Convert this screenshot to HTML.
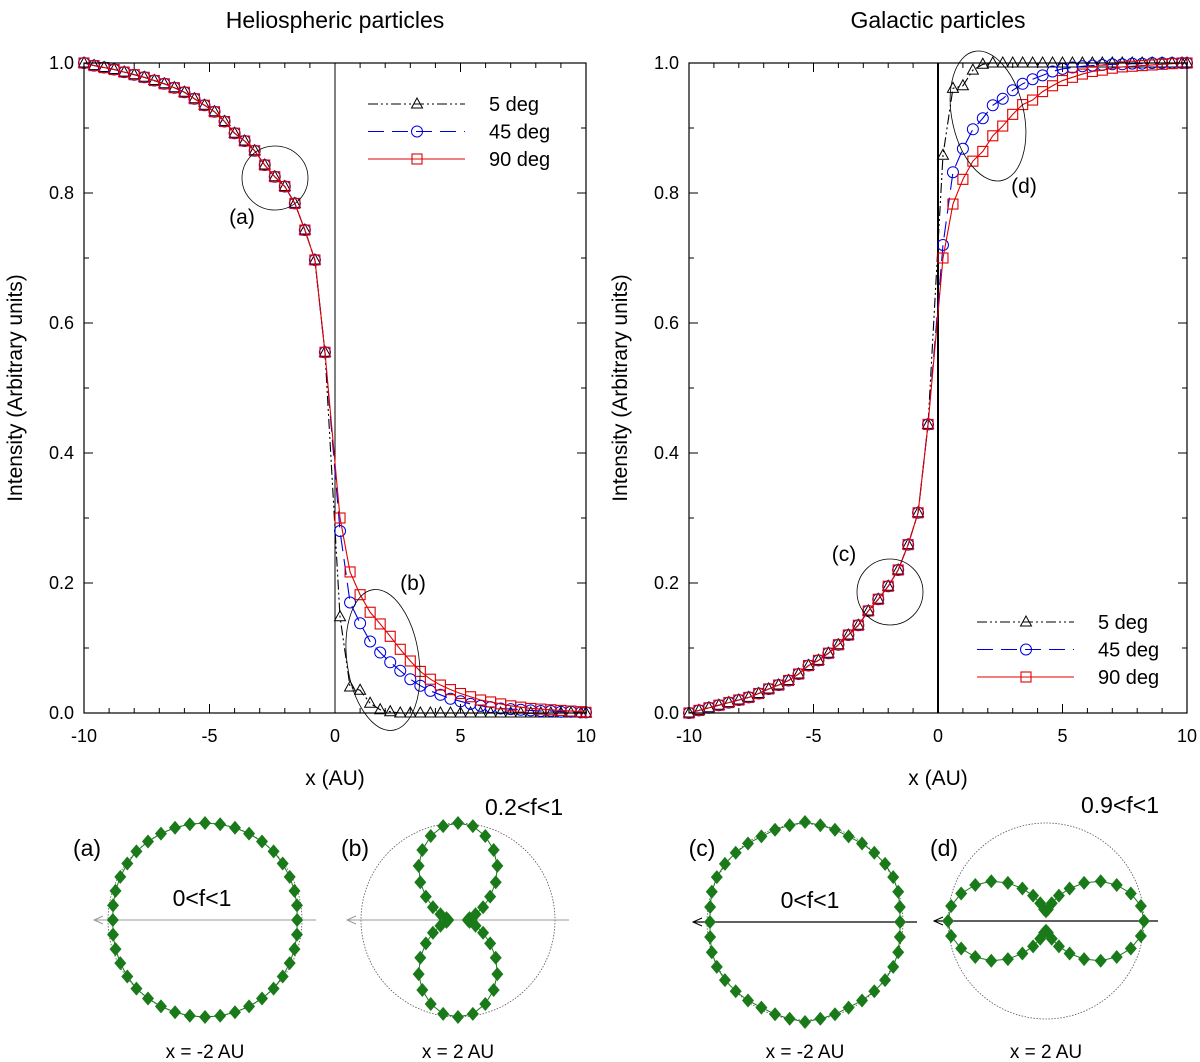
<!DOCTYPE html>
<html><head><meta charset="utf-8"><style>
html,body{margin:0;padding:0;background:#fff;}
svg{display:block;font-family:"Liberation Sans",Arial,sans-serif;}
</style></head><body>
<svg id="fig" width="1200" height="1062" viewBox="0 0 1200 1062"></svg>
<script>
const xLeft = [-10,-9.6,-9.2,-8.8,-8.4,-8,-7.6,-7.2,-6.8,-6.4,-6,-5.6,-5.2,-4.8,-4.4,-4,-3.6,-3.2,-2.8,-2.4,-2,-1.6,-1.2,-0.8,-0.4];
const xRight = [0.2,0.6,1,1.4,1.8,2.2,2.6,3,3.4,3.8,4.2,4.6,5,5.4,5.8,6.2,6.6,7,7.4,7.8,8.2,8.6,9,9.4,9.8,10];
const helioLeft = [1.0,.996,.993,.99,.986,.982,.978,.973,.968,.962,.955,.945,.935,.925,.91,.892,.88,.865,.843,.825,.81,.784,.743,.697,.555];
const helioRight5 = [.148,.04,.035,.015,.005,.002,0,0,0,0,0,0,0,0,0,0,0,0,0,0,0,0,0,0,0,0];
const helioRight45 = [.28,.17,.138,.11,.093,.078,.065,.052,.042,.034,.028,.022,.018,.014,.011,.009,.007,.006,.005,.004,.003,.003,.002,.002,.001,.001];
const helioRight90 = [.30,.217,.182,.155,.137,.118,.098,.08,.064,.052,.043,.036,.03,.025,.02,.017,.014,.011,.009,.007,.006,.005,.004,.003,.002,.001];
const galLeft = [0,.004,.008,.012,.016,.02,.024,.03,.037,.043,.05,.06,.073,.081,.092,.105,.12,.135,.157,.175,.195,.22,.259,.308,.444];
const galRight5 = [.858,.961,.965,.989,.998,1,1,1,1,1,1,1,1,1,1,1,1,1,1,1,1,1,1,1,1,1];
const galRight45 = [.72,.832,.868,.898,.915,.935,.945,.958,.968,.975,.981,.987,.991,.993,.995,.996,.997,.998,.998,.999,.999,1,1,1,1,1];
const galRight90 = [.70,.783,.821,.849,.864,.888,.903,.921,.936,.943,.956,.965,.973,.978,.983,.987,.989,.992,.994,.995,.996,.997,.998,.999,1,1];
const xTicks = [-10,-5,0,5,10];
const xTickLabels = ["-10","-5","0","5","10"];
const yTicks = [0,0.2,0.4,0.6,0.8,1.0];
const yTickLabels = ["0.0","0.2","0.4","0.6","0.8","1.0"];
const seriesNames = ["5 deg","45 deg","90 deg"];
const polarA = [.95,.96,.97,.98,.99,1,1,1,1,1,1,1,1,1,1,1,.99,.98,.97,.96,.95,.96,.97,.98,.99,1,1,1,1,1,1,1,1,1,1,1,.99,.98,.97,.96];
const polarB = [.1,.12,.19,.29,.41,.55,.69,.81,.91,.98,1,.98,.91,.81,.69,.55,.41,.29,.19,.12,.1,.12,.19,.29,.41,.55,.69,.81,.91,.98,1,.98,.91,.81,.69,.55,.41,.29,.19,.12];
const polarC = [.97,.98,1,1.01,1.01,1,.99,.98,.99,1,1.02,1,.99,.98,.99,1,1.01,1.01,1,.98,.97,.98,1,1.01,1.01,1,.99,.98,.99,1,1.02,1,.99,.98,.99,1,1.01,1.01,1,.98];
const polarD = [1,.98,.91,.81,.69,.55,.41,.29,.19,.12,.1,.12,.19,.29,.41,.55,.69,.81,.91,.98,1,.98,.91,.81,.69,.55,.41,.29,.19,.12,.1,.12,.19,.29,.41,.55,.69,.81,.91,.98];

const NS="http://www.w3.org/2000/svg";
const svg=document.getElementById('fig');
function mk(tag,attrs,parent,text){const e=document.createElementNS(NS,tag);for(const k in attrs)e.setAttribute(k,attrs[k]);if(text!==undefined)e.textContent=text;(parent||svg).appendChild(e);return e;}

const styles=[
 {color:"#000",dash:"10,3,2,3,2,3",marker:"tri"},
 {color:"#0000dd",dash:"16,8",marker:"circ"},
 {color:"#e00000",dash:"",marker:"sq"}
];

function panel(id,x0,x1,y0,y1,title,left,rights,legendPos,zeroW){
  const g=mk('g',{});
  
  
  const sx=v=>x0+(v+10)/20*(x1-x0);
  const sy=v=>y1-v*(y1-y0);
  const t=mk('text',{x:(x0+x1)/2,y:28,'font-size':23,'text-anchor':'middle'},g,title);
  
  
  for(let v=-10;v<=10;v++){const L=(v%5===0)?9:5;const X=sx(v);
    mk('line',{x1:X,y1:y1,x2:X,y2:y1-L,stroke:'#000','stroke-width':1},g);
    mk('line',{x1:X,y1:y0,x2:X,y2:y0+L,stroke:'#000','stroke-width':1},g);}
  for(let k=0;k<=10;k++){const v=k/10;const L=(k%2===0)?9:5;const Y=sy(v);
    mk('line',{x1:x0,y1:Y,x2:x0+L,y2:Y,stroke:'#000','stroke-width':1},g);
    mk('line',{x1:x1,y1:Y,x2:x1-L,y2:Y,stroke:'#000','stroke-width':1},g);}
  xTicks.forEach((v,i)=>{const e=mk('text',{x:sx(v),y:y1+29,'font-size':18,'text-anchor':'middle'},g,xTickLabels[i]);
    });
  yTicks.forEach((v,i)=>{const e=mk('text',{x:x0-10,y:sy(v)+6,'font-size':18,'text-anchor':'end'},g,yTickLabels[i]);
    });
  const xt=mk('text',{x:(x0+x1)/2,y:785,'font-size':21,'text-anchor':'middle'},g,'x (AU)');
  
  const yt=mk('text',{x:0,y:0,'font-size':21,'text-anchor':'middle',transform:`translate(${x0-62},${(y0+y1)/2}) rotate(-90)`},g,'Intensity (Arbitrary units)');
  
  mk('line',{x1:sx(0),y1:y0,x2:sx(0),y2:y1,stroke:'#000','stroke-width':zeroW},g);
  const xs=xLeft.concat(xRight);
  [0,1,2].forEach(s=>{
    const ys=left.concat(rights[s]);const st=styles[s];
    const sg=mk('g',{},g);
    
    
    mk('polyline',{points:xs.map((x,i)=>sx(x)+','+sy(ys[i])).join(' '),fill:'none',stroke:st.color,'stroke-width':1.1,'stroke-dasharray':st.dash},sg);
    xs.forEach((x,i)=>drawMarker(sg,st,sx(x),sy(ys[i])));
  });
  mk('rect',{x:x0,y:y0,width:x1-x0,height:y1-y0,fill:'none',stroke:'#000','stroke-width':1.2},g);
  const lg=mk('g',{},g);
  
  seriesNames.forEach((n,i)=>{const st=styles[i];const Y=legendPos.y+i*27.5;
    const e=mk('g',{},lg);
    
    mk('line',{x1:legendPos.x,y1:Y,x2:legendPos.x+97,y2:Y,stroke:st.color,'stroke-width':1.1,'stroke-dasharray':st.dash},e);
    drawMarker(e,st,legendPos.x+49,Y);
    mk('text',{x:legendPos.x+121,y:Y+7,'font-size':20},e,n);
  });
  return {g,sx,sy};
}
function drawMarker(g,st,X,Y){
  const c=st.color;
  if(st.marker==='tri')mk('polygon',{points:`${X},${Y-6} ${X-5.5},${Y+4} ${X+5.5},${Y+4}`,fill:'none',stroke:c,'stroke-width':1},g);
  else if(st.marker==='circ')mk('circle',{cx:X,cy:Y,r:5.5,fill:'none',stroke:c,'stroke-width':1},g);
  else mk('rect',{x:X-5,y:Y-5,width:10,height:10,fill:'none',stroke:c,'stroke-width':1.1},g);
}
const P1=panel('heliospheric',84,586,63,713,'Heliospheric particles',helioLeft,[helioRight5,helioRight45,helioRight90],{x:368,y:104},1);
const P2=panel('galactic',689,1187,63,713,'Galactic particles',galLeft,[galRight5,galRight45,galRight90],{x:977,y:622},2);

function ell(cx,cy,rx,ry,rot,name){const e=mk('ellipse',{cx,cy,rx,ry,fill:'none',stroke:'#000','stroke-width':0.8,transform:`rotate(${rot},${cx},${cy})`});
  }
function lbl(x,y,s,size,name){const e=mk('text',{x,y,'font-size':size,'text-anchor':'middle'},svg,s);
  }
ell(275,178,33,32,0,'highlight-a');lbl(242,224,'(a)',21,'label-a');
ell(383,660,36,71,-8,'highlight-b');lbl(413,590,'(b)',21,'label-b');
ell(988,116,36,66,-12,'highlight-d');lbl(1024,193,'(d)',21,'label-d');
ell(890,592,33,33,0,'highlight-c');lbl(844,561,'(c)',21,'label-c');

function polar(name,cx,cy,R,radii,refCircle,axisColor,lab,labX,fLab,fX,fY,xLab){
  const g=mk('g',{});
  
  if(refCircle)mk('circle',{cx,cy,r:R,fill:'none',stroke:'#555','stroke-width':0.8,'stroke-dasharray':'1.5,1.5'},g);
  mk('line',{x1:cx-R-14,y1:cy,x2:cx+R+14,y2:cy,stroke:axisColor,'stroke-width':axisColor==='#000'?1.2:1},g);
  mk('polyline',{points:`${cx-R-5},${cy-4} ${cx-R-14},${cy} ${cx-R-5},${cy+4}`,fill:'none',stroke:axisColor,'stroke-width':1},g);
  const pts=radii.map((r,k)=>{const a=k*9*Math.PI/180;return [cx-R*r*Math.cos(a),cy-R*r*Math.sin(a)];});
  mk('polygon',{points:pts.map(p=>p.join(',')).join(' '),fill:'none',stroke:'#1a7a1a','stroke-width':1},g);
  pts.forEach(p=>{const d=mk('polygon',{points:`${p[0]},${p[1]-7} ${p[0]+6},${p[1]} ${p[0]},${p[1]+7} ${p[0]-6},${p[1]}`,fill:'#1a7a1a'},g);
    });
  mk('text',{x:labX,y:856,'font-size':23,'text-anchor':'middle'},g,lab);
  mk('text',{x:fX,y:fY,'font-size':23,'text-anchor':'middle'},g,fLab);
  mk('text',{x:cx,y:1058,'font-size':19,'text-anchor':'middle'},g,xLab);
}
polar('polar-a',205,920,97,polarA,true,'#999','(a)',87,'0<f<1',202,906,'x = -2 AU');
polar('polar-b',458,920,97,polarB,true,'#999','(b)',355,'0.2<f<1',524,815,'x = 2 AU');
polar('polar-c',805,922,98,polarC,true,'#000','(c)',702,'0<f<1',810,908,'x = -2 AU');
polar('polar-d',1046,921,98,polarD,true,'#000','(d)',944,'0.9<f<1',1120,813,'x = 2 AU');
</script>
</body></html>
